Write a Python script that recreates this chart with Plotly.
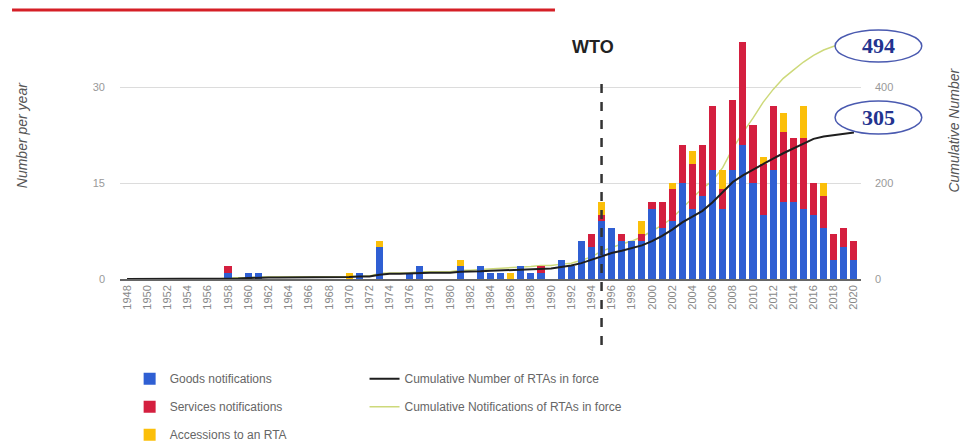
import plotly.graph_objects as go

years = list(range(1948, 2021))

goods = [0,0,0,0,0,0,0,0,0,0,           # 1948-1957
         1,0,1,1,0,0,0,0,0,0,           # 1958-1967
         0,0,0,1,0,5,0,0,1,2,           # 1968-1977
         0,0,0,2,0,2,1,1,0,2,           # 1978-1987
         1,1,0,3,2,6,5,9,8,6,           # 1988-1997
         6,6,11,8,9,15,11,13,17,11,     # 1998-2007
         17,21,15,10,17,12,12,11,10,8,  # 2008-2017
         3,5,3]                         # 2018-2020
services = [0,0,0,0,0,0,0,0,0,0,
            1,0,0,0,0,0,0,0,0,0,
            0,0,0,0,0,0,0,0,0,0,
            0,0,0,0,0,0,0,0,0,0,
            0,1,0,0,0,0,2,1,0,1,
            0,1,1,4,5,6,7,8,10,3,
            11,16,9,8,10,11,10,11,5,5,
            4,3,3]
accessions = [0,0,0,0,0,0,0,0,0,0,
              0,0,0,0,0,0,0,0,0,0,
              0,0,1,0,0,1,0,0,0,0,
              0,0,0,1,0,0,0,0,1,0,
              0,0,0,0,0,0,0,2,0,0,
              0,2,0,0,1,0,2,0,0,3,
              0,0,0,1,0,3,0,5,0,2,
              0,0,0]
cum_rtas = [0,0,0,0,0,0,0,0,0,0,
            1,1,2,3,3,3,3,3,3,3,
            3,3,4,5,5,9,11,11,12,13,
            13,13,13,15,15,16,17,18,18,19,
            20,21,22,25,28,33,40,48,54,59,
            64,70,79,90,103,118,130,142,160,180,
            202,216,228,240,251,262,272,283,292,297,
            300,303,305]
cum_notifs = [0,0,0,0,0,0,0,0,0,0,
              2,2,3,4,4,4,4,4,4,4,
              4,4,5,6,6,12,12,12,13,15,
              15,15,15,18,18,20,21,22,23,25,
              26,28,28,31,33,39,46,58,66,73,
              79,88,100,112,127,148,168,189,205,232,
              272,305,335,368,395,418,435,452,466,477,
              485,490,494]

tick_years = list(range(1948, 2021, 2))
tick_text = [str(y) for y in tick_years]

BLUE = "#2f5fd3"
RED = "#d41f3f"
YELLOW = "#fbbf0a"
FONT = "Arial, 'Liberation Sans', sans-serif"
SERIF = "'Liberation Serif', 'DejaVu Serif', serif"

fig = go.Figure()

# yellow cumulative line: drawn on bottom axis layer (behind the bars)
fig.add_trace(go.Scatter(x=years, y=cum_notifs, mode="lines", yaxis="y",
                         name="Cumulative Notifications of RTAs in force",
                         line=dict(color="#cdd97a", width=1.5),
                         legend="legend2", legendrank=2, legendgroup="n"))
fig.add_trace(go.Bar(x=years, y=goods, name="Goods notifications", yaxis="y2",
                     marker=dict(color=BLUE, line=dict(width=0)),
                     legend="legend", legendrank=1, legendgroup="g"))
fig.add_trace(go.Bar(x=years, y=services, name="Services notifications", yaxis="y2",
                     marker=dict(color=RED, line=dict(width=0)),
                     legend="legend", legendrank=2, legendgroup="s"))
fig.add_trace(go.Bar(x=years, y=accessions, name="Accessions to an RTA", yaxis="y2",
                     marker=dict(color=YELLOW, line=dict(width=0)),
                     legend="legend", legendrank=3, legendgroup="a"))
fig.add_trace(go.Scatter(x=years, y=cum_rtas, mode="lines", yaxis="y3",
                         name="Cumulative Number of RTAs in force",
                         line=dict(color="#1e1e1e", width=2),
                         legend="legend2", legendrank=1, legendgroup="c"))

# the page adds an 8px body margin, so the figure is 8px smaller and shifted
fig.update_layout(
    width=961, height=433,
    margin=dict(l=112, r=108, t=31, b=162, autoexpand=False),
    paper_bgcolor="white", plot_bgcolor="white",
    barmode="stack", bargap=0.3,
    font=dict(family=FONT, size=11, color="#777"),
    xaxis=dict(range=[1947.3, 2020.7], tickmode="array", tickvals=tick_years,
               ticktext=tick_text, tickangle=-90, showgrid=False,
               showline=True, linecolor="#666", linewidth=1.5,
               tickfont=dict(size=11, color="#888"), anchor="y", zeroline=False,
               automargin=False),
    yaxis=dict(side="right", range=[0, 500], tickvals=[0, 200, 400],
               showgrid=False, zeroline=False, ticks="", automargin=False,
               tickfont=dict(size=11, color="#999"), ticklabelstandoff=13),
    yaxis2=dict(side="left", overlaying="y", range=[0, 37.5], tickvals=[0, 15, 30],
                showgrid=True, gridcolor="#dcdcdc", gridwidth=1, zeroline=False,
                automargin=False,
                tickfont=dict(size=11, color="#999"), ticks="", ticklabelstandoff=14),
    yaxis3=dict(overlaying="y", range=[0, 500], visible=False),
    showlegend=True,
    legend=dict(x=0.013, y=-0.355, xanchor="left", yanchor="top",
                orientation="v", traceorder="grouped", tracegroupgap=9,
                font=dict(size=12, color="#666", family=FONT),
                bgcolor="rgba(0,0,0,0)"),
    legend2=dict(x=0.33, y=-0.355, xanchor="left", yanchor="top",
                 orientation="v", traceorder="grouped", tracegroupgap=9,
                 font=dict(size=12, color="#666", family=FONT),
                 bgcolor="rgba(0,0,0,0)"),
)

shapes = [
    # top red rule
    dict(type="line", xref="paper", yref="paper", x0=-0.1457, x1=0.587,
         y0=1.121, y1=1.121, line=dict(color="#d51f26", width=3)),
    # WTO dashed line
    dict(type="line", xref="x", yref="paper", x0=1995, x1=1995, y0=-0.275, y1=0.85,
         line=dict(color="#333", width=2.5, dash="dash"), layer="above"),
    # ellipses
    dict(type="circle", xref="paper", yref="paper", x0=0.965, x1=1.082,
         y0=0.904, y1=1.0375, fillcolor="white",
         line=dict(color="#4a5ab0", width=1.5), layer="above"),
    dict(type="circle", xref="paper", yref="paper", x0=0.965, x1=1.082,
         y0=0.604, y1=0.742, fillcolor="white",
         line=dict(color="#4a5ab0", width=1.5), layer="above"),
]
fig.update_layout(shapes=shapes)

annotations = [
    dict(text="<b>WTO</b>", x=1995, xref="x", y=0.967, yref="paper", xshift=-9,
         xanchor="center", yanchor="middle",
         showarrow=False, font=dict(size=18, color="#222", family=FONT)),
    dict(text="<b>494</b>", x=1.0235, xref="paper", y=0.971, yref="paper",
         xanchor="center", yanchor="middle",
         showarrow=False, font=dict(size=22, color="#23338f", family=SERIF)),
    dict(text="<b>305</b>", x=1.0235, xref="paper", y=0.673, yref="paper",
         xanchor="center", yanchor="middle",
         showarrow=False, font=dict(size=22, color="#23338f", family=SERIF)),
    dict(text="<i>Number per year</i>", x=-0.132, xref="paper", y=0.6, yref="paper",
         xanchor="center", yanchor="middle",
         textangle=-90, showarrow=False, font=dict(size=14, color="#555", family=FONT)),
    dict(text="<i>Cumulative Number</i>", x=1.126, xref="paper", y=0.62, yref="paper",
         xanchor="center", yanchor="middle",
         textangle=-90, showarrow=False, font=dict(size=14, color="#555", family=FONT)),
]
fig.update_layout(annotations=annotations)

fig.write_html("out.html")
